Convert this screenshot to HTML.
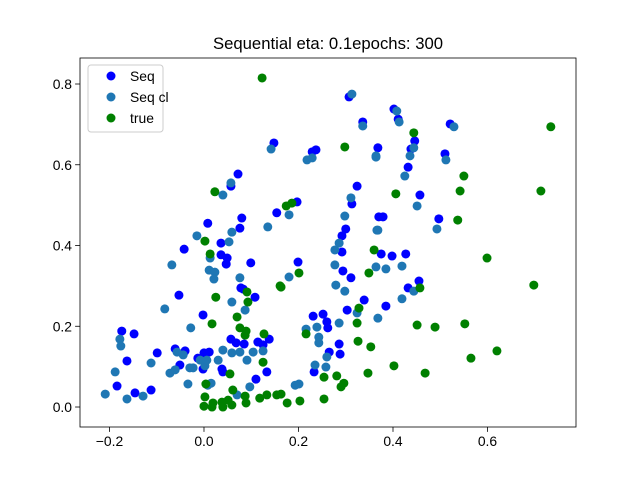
<!DOCTYPE html>
<html><head><meta charset="utf-8"><style>
body{margin:0;background:#fff;}
svg{display:block;font-family:"Liberation Sans","DejaVu Sans",sans-serif;}
</style></head><body>
<svg id="chart" width="640" height="480" viewBox="0 0 640 480" xmlns="http://www.w3.org/2000/svg">
<rect width="640" height="480" fill="#fff"/>
<text x="328" y="49" text-anchor="middle" font-size="16.7" fill="#000">Sequential eta: 0.1epochs: 300</text>
<g id="marks"></g>
<g id="axes"></g>
<g id="legend">
<rect x="88" y="65" width="75" height="67" rx="3" fill="#fff" fill-opacity="0.8" stroke="#ccc" stroke-width="1"/>
<g><circle cx="111" cy="76" r="4.5" fill="#0000ff"/><text x="130" y="81" font-size="13.9">Seq</text></g>
<g><circle cx="111" cy="97" r="4.5" fill="#1f77b4"/><text x="130" y="102" font-size="13.9">Seq cl</text></g>
<g><circle cx="111" cy="118" r="4.5" fill="#008000"/><text x="130" y="123" font-size="13.9">true</text></g>
</g>
</svg>
<script>
const seqX=[.307,.336,.148,.229,.237,.368,.072,.057,.324,.313,.197,.154,.080,.008,.076,.300,.292,.036,-.042,.370,.402,.411,.521,.446,.438,.510,.432,.457,.379,.497,.292,.199,.375,.398,.427,.294,.311,.455,.432,.339,.385,.303,.231,.252,.260,.262,.286,.265,.288,.233,.036,.049,.047,.099,-.053,.078,.083,.108,-.002,-.174,-.148,-.163,-.099,-.061,-.040,-.051,-.013,.000,.011,-.002,.038,.040,.057,.068,.085,.114,.138,.125,.133,.110,-.184,-.146,-.112];
const seqY=[.768,.706,.654,.632,.637,.642,.577,.547,.547,.503,.508,.481,.468,.455,.443,.441,.424,.406,.391,.471,.738,.713,.701,.659,.639,.627,.594,.525,.471,.466,.384,.359,.379,.374,.379,.337,.320,.312,.295,.265,.250,.240,.225,.230,.211,.196,.156,.136,.131,.087,.377,.369,.354,.357,.277,.295,.292,.272,.228,.188,.181,.114,.134,.144,.139,.104,.121,.134,.136,.094,.094,.087,.168,.159,.156,.161,.168,.154,.087,.069,.052,.035,.042];
const clX=[.313,.336,.142,.218,.229,.364,.057,.040,.311,.180,.298,.059,-.015,.135,.053,.286,.366,.408,.413,.529,.444,.436,.364,.512,.425,.451,.368,.493,.277,.180,.277,.364,.385,.419,.279,.298,.444,.419,.324,.368,.286,.216,.239,.243,.243,.260,.235,.258,.201,.193,-.068,.013,.011,.023,.021,.076,.059,.087,-.083,-.028,-.178,-.176,-.112,-.188,-.209,-.163,-.129,-.072,-.061,-.057,-.044,-.030,-.023,-.008,.002,.006,.030,.040,.059,.076,.091,.104,.125,-.034,.008,.015,.097,.070];
const clY=[.775,.696,.639,.612,.617,.619,.555,.525,.518,.476,.473,.433,.424,.446,.409,.406,.438,.733,.706,.694,.642,.622,.622,.612,.572,.498,.438,.441,.389,.322,.352,.347,.342,.349,.302,.287,.287,.268,.233,.220,.208,.193,.198,.173,.159,.124,.104,.099,.057,.054,.352,.369,.339,.334,.317,.320,.260,.240,.243,.196,.168,.151,.109,.087,.032,.020,.027,.084,.092,.136,.129,.097,.097,.116,.102,.116,.116,.141,.134,.136,.116,.136,.139,.057,.054,.059,.050,.030];
const trueX=[.123,.298,.023,.174,.186,.002,.734,.444,.550,.406,.542,.713,.537,.360,.201,.349,.163,.457,.328,.324,.451,.489,.552,.216,.326,.353,.565,.402,.347,.468,.254,.281,.296,.290,.163,.176,.203,.254,.013,.025,.091,.093,.070,.017,.076,.089,.087,.127,.125,.161,.055,.004,.061,.087,.089,.118,.133,.154,.002,.000,.019,.017,.038,.040,.059,.051,.599,.698,.620];
const trueY=[.815,.644,.533,.498,.505,.411,.694,.679,.572,.528,.535,.535,.463,.389,.332,.332,.297,.295,.245,.208,.203,.198,.206,.181,.163,.149,.121,.102,.084,.084,.074,.077,.059,.050,.032,.010,.015,.020,.379,.272,.285,.260,.223,.206,.196,.188,.178,.181,.111,.300,.082,.057,.042,.027,.010,.022,.030,.030,.025,.002,.010,.000,.012,.000,.005,.017,.369,.302,.139];
const xTicks=[-0.2,0.0,0.2,0.4,0.6];
const xTickLabels=["−0.2","0.0","0.2","0.4","0.6"];
const yTicks=[0.0,0.2,0.4,0.6,0.8];
const yTickLabels=["0.0","0.2","0.4","0.6","0.8"];

const L=80,R=576,T=58,B=427;
const xMin=-0.2624,xMax=0.7873,yMin=-0.0495,yMax=0.8644;
const sx=v=>L+(v-xMin)/(xMax-xMin)*(R-L);
const sy=v=>B-(v-yMin)/(yMax-yMin)*(B-T);
const NS="http://www.w3.org/2000/svg";
const marks=document.getElementById('marks');
function series(xs,ys,color,name){
  const g=document.createElementNS(NS,'g');
  
  
  xs.forEach((x,i)=>{
    const c=document.createElementNS(NS,'circle');
    c.setAttribute('cx',sx(x));c.setAttribute('cy',sy(ys[i]));c.setAttribute('r',4.5);c.setAttribute('fill',color);
    
    
    g.appendChild(c);
  });
  marks.appendChild(g);
}
series(seqX,seqY,'#0000ff','series-seq');
series(clX,clY,'#1f77b4','series-seq-cl');
series(trueX,trueY,'#008000','series-true');

const axes=document.getElementById('axes');
const frame=document.createElementNS(NS,'rect');
frame.setAttribute('x',L);frame.setAttribute('y',T);frame.setAttribute('width',R-L);frame.setAttribute('height',B-T);
frame.setAttribute('fill','none');frame.setAttribute('stroke','#000');frame.setAttribute('stroke-width','0.8');


axes.appendChild(frame);
xTicks.forEach((v,i)=>{
  const x=sx(v);
  const l=document.createElementNS(NS,'line');
  l.setAttribute('x1',x);l.setAttribute('x2',x);l.setAttribute('y1',B);l.setAttribute('y2',B+4.9);l.setAttribute('stroke','#000');l.setAttribute('stroke-width','0.8');
  
  
  axes.appendChild(l);
  const t=document.createElementNS(NS,'text');
  t.setAttribute('x',x);t.setAttribute('y',B+19);t.setAttribute('text-anchor','middle');t.setAttribute('font-size','13.9');
  t.textContent=xTickLabels[i];
  
  
  axes.appendChild(t);
});
yTicks.forEach((v,i)=>{
  const y=sy(v);
  const l=document.createElementNS(NS,'line');
  l.setAttribute('x1',L-4.9);l.setAttribute('x2',L);l.setAttribute('y1',y);l.setAttribute('y2',y);l.setAttribute('stroke','#000');l.setAttribute('stroke-width','0.8');
  
  
  axes.appendChild(l);
  const t=document.createElementNS(NS,'text');
  t.setAttribute('x',L-8);t.setAttribute('y',y+5);t.setAttribute('text-anchor','end');t.setAttribute('font-size','13.9');
  t.textContent=yTickLabels[i];
  
  
  axes.appendChild(t);
});
</script>
</body></html>
